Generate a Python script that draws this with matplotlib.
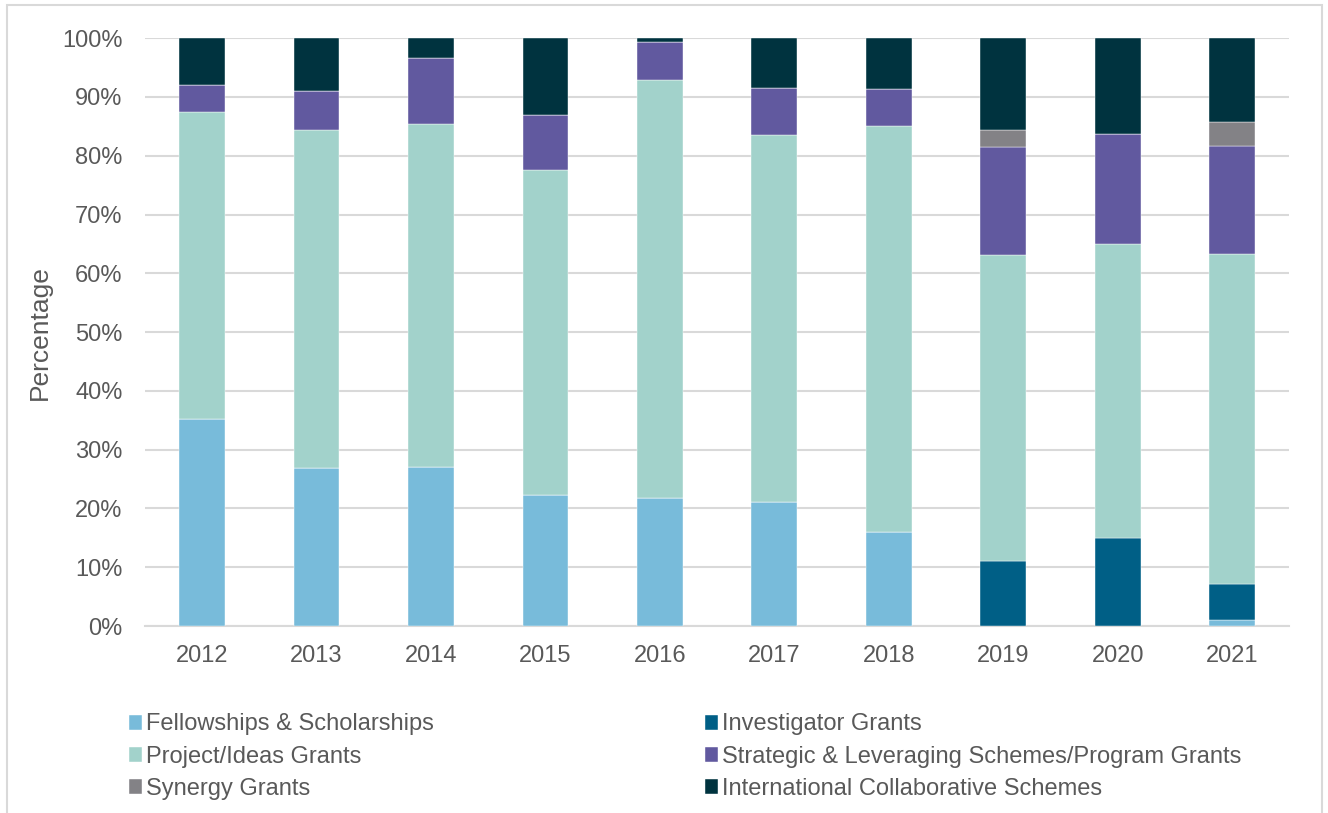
import numpy as np
import matplotlib.pyplot as plt
from matplotlib.patches import Rectangle
from matplotlib.ticker import PercentFormatter

plt.rcParams['font.family'] = ['Liberation Sans', 'DejaVu Sans']

years = ['2012', '2013', '2014', '2015', '2016', '2017', '2018', '2019', '2020', '2021']

# доли в процентах, снизу вверх
fellowships = [35.2, 26.8, 27.0, 22.3, 21.8, 21.1, 16.0, 0.0, 0.0, 1.1]
investigator = [0.0, 0.0, 0.0, 0.0, 0.0, 0.0, 0.0, 11.05, 15.0, 6.0]
project = [52.3, 57.5, 58.4, 55.25, 71.1, 62.35, 69.0, 52.05, 50.0, 56.2]
strategic = [4.5, 6.7, 11.3, 9.35, 6.4, 8.0, 6.4, 18.4, 18.7, 18.3]
synergy = [0.0, 0.0, 0.0, 0.0, 0.0, 0.0, 0.0, 2.8, 0.0, 4.1]
international = [8.0, 9.0, 3.3, 13.1, 0.7, 8.55, 8.6, 15.7, 16.3, 14.3]

labels = ['Fellowships & Scholarships', 'Investigator Grants', 'Project/Ideas Grants',
          'Strategic & Leveraging Schemes/Program Grants', 'Synergy Grants',
          'International Collaborative Schemes']
colors = ['#78BBDA', '#005F86', '#A2D2CB', '#61599F', '#838286', '#00333F']
series = [fellowships, investigator, project, strategic, synergy, international]

fig = plt.figure(figsize=(13.28, 8.13), dpi=100)
ax = fig.add_axes([0.109, 0.230, 0.862, 0.723])

x = np.arange(len(years))
bottom = np.zeros(len(years))
bars = []
for vals, col, lab in zip(series, colors, labels):
    b = ax.bar(x, vals, 0.4, bottom=bottom, color=col, label=lab,
               edgecolor='white', linewidth=0.3, zorder=3)
    bars.append(b)
    bottom += np.array(vals)

ax.set_xlim(-0.5, len(years) - 0.5)
ax.set_ylim(0, 100)
ax.set_yticks(np.arange(0, 101, 10))
ax.yaxis.set_major_formatter(PercentFormatter(decimals=0))
ax.set_xticks(x)
ax.set_xticklabels(years)
ax.grid(axis='y', color='#D9D9D9', linewidth=1.5, zorder=0)
ax.tick_params(length=0, labelsize=17, colors='#595959')
ax.tick_params(axis='x', pad=14)
ax.tick_params(axis='y', pad=16)
for s in ['top', 'right', 'left']:
    ax.spines[s].set_visible(False)
ax.spines['bottom'].set_color('#D9D9D9')
ax.spines['bottom'].set_linewidth(1.5)
ax.set_ylabel('Percentage', fontsize=19, color='#595959', labelpad=7)

# порядок в легенде: по строкам, как в оригинале
order = [0, 2, 4, 1, 3, 5]
fig.legend(handles=[bars[i] for i in order], loc='upper left',
           bbox_to_anchor=(0.088, 0.137),
           ncol=2, frameon=False, fontsize=17, labelcolor='#595959',
           handlelength=0.55, handleheight=0.6, handletextpad=0.2,
           labelspacing=0.44, columnspacing=11.45, borderpad=0)

# рамка диаграммы
fig.patches.append(Rectangle((7 / 1328, -0.01), 1315 / 1328, 1.01 - 5 / 813,
                             transform=fig.transFigure, fill=False,
                             edgecolor='#D9D9D9', linewidth=1.5))

fig.savefig('out.png', dpi=100)
